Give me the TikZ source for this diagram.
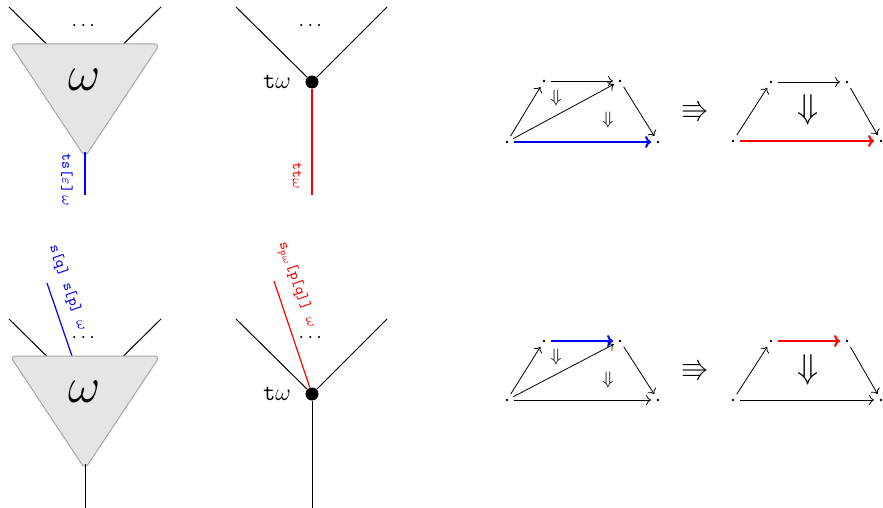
\documentclass[tikz,border=0pt]{standalone}
\usepackage{amsmath,amssymb}
\usetikzlibrary{arrows.meta}
\begin{document}
\begin{tikzpicture}[x=0.5pt,y=-0.5pt,
  wire/.style={line width=0.5pt},
  cwire/.style={line width=0.6pt},
  tri/.style={fill=black!10, draw=black!35, line width=0.5pt, rounded corners=3pt},
  bigom/.style={font=\fontsize{24}{26}\selectfont, inner sep=0pt},
  dotsn/.style={font=\fontsize{10}{12}\selectfont, inner sep=0pt},
  vdot/.style={circle, fill=black, inner sep=0pt, minimum size=6.5pt},
  tlab/.style={font=\fontsize{12}{14}\selectfont, inner sep=0pt},
  lab/.style={font=\fontsize{7.5}{9}\selectfont\ttfamily, inner sep=0pt},
  pt/.style={circle, fill=black, inner sep=0pt, minimum size=1.3pt, outer sep=2.8pt},
  arr/.style={line width=0.4pt, -{To[length=2.5pt 0,width=5pt 0]}},
  thickarr/.style={line width=1pt, -{To[length=3pt 0,width=6pt 0]}},
  smalld/.style={font=\fontsize{9}{10}\selectfont, inner sep=0pt},
  bigd/.style={font=\fontsize{17}{19}\selectfont, inner sep=0pt},
  trip/.style={font=\fontsize{14}{16}\selectfont, inner sep=0pt}
]
\useasboundingbox (0,0) rectangle (883,508);

% ---------- top-left tree ----------
\coordinate (w1) at (85,82);
\coordinate (w1l) at (9,7);
\coordinate (w1r) at (161,7);
\draw[wire] (w1) -- (w1l);
\draw[wire] (w1) -- (w1r);
\draw[tri] (10,44) -- (160,44) -- (85,157) -- cycle;
\node[bigom] (om1) at (85,80) {$\omega$};
\node[dotsn] (dd1) at (85,26) {$\cdots$};
\coordinate (a1) at (85,152);
\coordinate (o1) at (85,195);
\draw[cwire, blue] (a1) -- (o1);
\node[lab, text=blue, rotate=-90] (l1) at (67,180) {ts[$\varepsilon$]\,$\omega$};

% ---------- top-right tree ----------
\node[vdot] (t1) at (312,82) {};
\coordinate (t1l) at (236,7);
\coordinate (t1r) at (387,7);
\draw[wire] (t1) -- (t1l);
\draw[wire] (t1) -- (t1r);
\node[dotsn] (dd2) at (312,26) {$\cdots$};
\node[tlab] (tl1) at (277,82) {\texttt{t}$\omega$};
\coordinate (t1b) at (312,195);
\draw[cwire, red] (t1) -- (t1b);
\node[lab, text=red, rotate=-90] (l2) at (297,176) {tt$\omega$};

% ---------- bottom-left tree ----------
\coordinate (w2) at (85,394);
\coordinate (w2l) at (9,319);
\coordinate (w2r) at (161,319);
\coordinate (w2u) at (47,283);
\draw[wire] (w2) -- (w2l);
\draw[wire] (w2) -- (w2r);
\draw[cwire, blue] (w2) -- (w2u);
\draw[tri] (10,356) -- (160,356) -- (85,469) -- cycle;
\node[bigom] (om2) at (85,392) {$\omega$};
\node[dotsn] (dd3) at (85,338) {$\cdots$};
\coordinate (a2) at (85,464);
\coordinate (o2) at (85,508);
\draw[wire] (a2) -- (o2);
\node[lab, text=blue, rotate=-71] (l3) at (68,288) {s[q] s[p] $\omega$};

% ---------- bottom-right tree ----------
\node[vdot] (t2) at (312,394) {};
\coordinate (t2l) at (236,319);
\coordinate (t2r) at (387,319);
\coordinate (t2u) at (274,281);
\coordinate (t2b) at (312,508);
\draw[wire] (t2) -- (t2l);
\draw[wire] (t2) -- (t2r);
\draw[wire] (t2) -- (t2b);
\draw[cwire, red] (t2) -- (t2u);
\node[dotsn] (dd4) at (312,338) {$\cdots$};
\node[tlab] (tl2) at (277,394) {\texttt{t}$\omega$};
\node[lab, text=red, rotate=-71] (l4) at (297,285) {s$_{\mathtt{p}\omega}$[p[q]] $\omega$};

% ---------- top pasting diagrams ----------
\node[pt] (A1) at (507,142) {};
\node[pt] (A2) at (544,81) {};
\node[pt] (A3) at (620,81) {};
\node[pt] (A4) at (658,142) {};
\draw[arr] (A1) -- (A2);
\draw[arr] (A2) -- (A3);
\draw[arr] (A1) -- (A3);
\draw[arr] (A3) -- (A4);
\draw[thickarr, blue] (A1) -- (A4);
\node[smalld] (Ad1) at (556,98) {$\Downarrow$};
\node[smalld] (Ad2) at (608,120) {$\Downarrow$};
\node[trip] (Ar) at (695,112) {$\Rrightarrow$};
\node[pt] (B1) at (733,141) {};
\node[pt] (B2) at (771,82) {};
\node[pt] (B3) at (847,82) {};
\node[pt] (B4) at (881,141) {};
\draw[arr] (B1) -- (B2);
\draw[arr] (B2) -- (B3);
\draw[arr] (B3) -- (B4);
\draw[thickarr, red] (B1) -- (B4);
\node[bigd] (Bd) at (808,110) {$\Downarrow$};

% ---------- bottom pasting diagrams ----------
\node[pt] (C1) at (507,400) {};
\node[pt] (C2) at (544,341) {};
\node[pt] (C3) at (620,341) {};
\node[pt] (C4) at (658,400) {};
\draw[arr] (C1) -- (C2);
\draw[thickarr, blue] (C2) -- (C3);
\draw[arr] (C1) -- (C3);
\draw[arr] (C3) -- (C4);
\draw[arr] (C1) -- (C4);
\node[smalld] (Cd1) at (556,357) {$\Downarrow$};
\node[smalld] (Cd2) at (608,380) {$\Downarrow$};
\node[trip] (Cr) at (695,370) {$\Rrightarrow$};
\node[pt] (D1) at (733,400) {};
\node[pt] (D2) at (771,341) {};
\node[pt] (D3) at (847,341) {};
\node[pt] (D4) at (881,400) {};
\draw[arr] (D1) -- (D2);
\draw[thickarr, red] (D2) -- (D3);
\draw[arr] (D3) -- (D4);
\draw[arr] (D1) -- (D4);
\node[bigd] (Dd) at (808,370) {$\Downarrow$};
\end{tikzpicture}
\end{document}
